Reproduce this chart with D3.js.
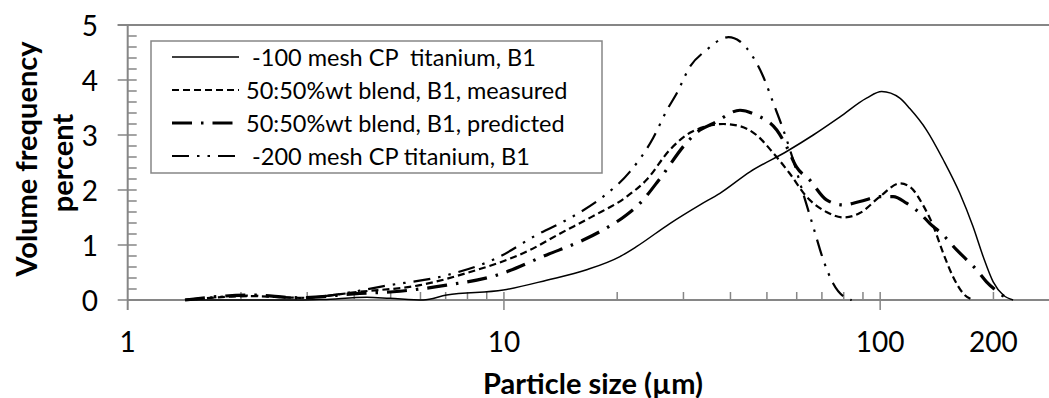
<!doctype html>
<html>
<head>
<meta charset="utf-8">
<title>Particle size distribution</title>
<script src="https://cdnjs.cloudflare.com/ajax/libs/d3/7.8.5/d3.min.js"></script>
<style>
  body { margin: 0; background: #fff; }
  text { font-family: Lato, "Open Sans", sans-serif; fill: #000; }
</style>
</head>
<body>
<div id="chart"></div>
<script>
// particle sizes (um) and volume frequency (%)
var coarseSize = [1.42, 2.11, 2.87, 3.30, 4.32, 4.98, 6.10, 7.04, 9.96, 12.99, 16.59, 20.34, 22.5, 27.6, 33.2, 37.5, 45.06, 56.4, 66.4, 78.2, 92.0, 100.9, 112.8, 119.9, 132.8, 147.1, 162.8, 176.6, 187.8, 199.7, 212.3, 225.6];
var coarseVal  = [0, 0, 0, 0.01, 0.05, 0.03, 0.0, 0.09, 0.18, 0.36, 0.55, 0.79, 0.97, 1.39, 1.73, 1.94, 2.33, 2.70, 3.00, 3.33, 3.67, 3.79, 3.67, 3.48, 3.09, 2.55, 1.94, 1.33, 0.79, 0.33, 0.09, 0];

var measSize = [1.42, 2.11, 2.87, 4.14, 5.98, 7.96, 11.73, 14.11, 17.2, 21.2, 23.9, 27.6, 31.6, 38.3, 42.4, 46.9, 52.0, 57.5, 63.7, 72.0, 79.8, 88.3, 99.8, 112.8, 119.9, 130.1, 138.3, 147.1, 156.3, 166.2, 176.6];
var measVal  = [0, 0.07, 0.04, 0.15, 0.27, 0.49, 0.91, 1.21, 1.52, 1.88, 2.18, 2.73, 3.06, 3.20, 3.16, 3.00, 2.67, 2.30, 1.88, 1.60, 1.50, 1.58, 1.88, 2.12, 2.06, 1.72, 1.35, 0.85, 0.42, 0.12, 0];

var predSize = [1.42, 2.11, 2.87, 4.14, 5.08, 7.04, 9.56, 12.99, 16.25, 17.95, 21.2, 23.0, 26.0, 30.5, 33.2, 36.0, 42.4, 46.9, 53.1, 56.4, 59.9, 65.0, 72.0, 79.8, 88.3, 99.8, 108.3, 117.5, 127.5, 135.6, 147.1, 159.7, 169.8, 180.4, 191.7, 208, 221.1];
var predVal  = [0, 0.09, 0.04, 0.12, 0.15, 0.27, 0.45, 0.82, 1.09, 1.24, 1.55, 1.76, 2.21, 2.85, 3.09, 3.21, 3.45, 3.36, 3.09, 2.79, 2.42, 2.18, 1.82, 1.73, 1.79, 1.88, 1.88, 1.76, 1.58, 1.39, 1.18, 0.91, 0.73, 0.55, 0.33, 0.12, 0];

var fineSize = [1.42, 2.11, 2.87, 4.14, 4.68, 7.04, 9.56, 12.2, 14.98, 18.36, 21.6, 24.9, 27.1, 28.8, 31.2, 34.6, 37.5, 39.5, 42.4, 45.9, 48.9, 52.0, 55.3, 58.7, 62.4, 66.4, 70.6, 75.0, 81.4, 84];
var fineVal  = [0, 0.08, 0.04, 0.17, 0.24, 0.45, 0.76, 1.18, 1.49, 1.88, 2.33, 2.94, 3.45, 3.76, 4.24, 4.55, 4.73, 4.78, 4.70, 4.42, 4.06, 3.58, 3.09, 2.55, 1.94, 1.33, 0.73, 0.30, 0.03, 0];

var seriesNames = [" -100 mesh CP  titanium, B1", "50:50%wt blend, B1, measured", "50:50%wt blend, B1, predicted", " -200 mesh CP titanium, B1"];
var xTickLabels = [1, 10, 100, 200];
var yTickLabels = [0, 1, 2, 3, 4, 5];

var width = 1049, height = 398;
var grey = "#868686";

var svg = d3.select("#chart").append("svg")
    .attr("width", width)
    .attr("height", height);

var x = d3.scaleLog().domain([1, 281]).range([127.7, 1049]);
var y = d3.scaleLinear().domain([0, 5]).range([300, 25]);

var styles = [
  {w: 1.5, dash: null},
  {w: 2.2, dash: "7,4"},
  {w: 3.2, dash: "20,9,2.5,9"},
  {w: 2.2, dash: "17,8,2.5,8,2.5,8"}
];

// axes
var axes = svg.append("g");
axes.append("line")
    .attr("x1", x(1) - 10).attr("x2", width)
    .attr("y1", y(5)).attr("y2", y(5))
    .attr("stroke", grey).attr("stroke-width", 2);
axes.append("line")
    .attr("x1", x(1)).attr("x2", x(1))
    .attr("y1", y(5)).attr("y2", y(0))
    .attr("stroke", grey).attr("stroke-width", 2);
axes.append("line")
    .attr("x1", x(1)).attr("x2", width)
    .attr("y1", y(0)).attr("y2", y(0))
    .attr("stroke", grey).attr("stroke-width", 2);

// y ticks: major every 1, minor every 0.2
d3.range(0, 5.001, 0.2).forEach(function (v) {
  var major = Math.abs(v - Math.round(v)) < 1e-6;
  axes.append("line")
      .attr("x1", major ? x(1) - 10 : x(1)).attr("x2", x(1) + 9)
      .attr("y1", y(v)).attr("y2", y(v))
      .attr("stroke", grey).attr("stroke-width", 1.5);
});

// x ticks: decades cross the axis, minor ticks inside
x.ticks().forEach(function (v) {
  var major = Math.abs(Math.log10(v) - Math.round(Math.log10(v))) < 1e-6;
  if (v === 1) return;
  axes.append("line")
      .attr("x1", x(v)).attr("x2", x(v))
      .attr("y1", y(0) - 8).attr("y2", major ? y(0) + 10 : y(0))
      .attr("stroke", grey).attr("stroke-width", 1.5);
});
axes.append("line")
    .attr("x1", x(1)).attr("x2", x(1))
    .attr("y1", y(0)).attr("y2", y(0) + 10)
    .attr("stroke", grey).attr("stroke-width", 2);

svg.selectAll(".ylab").data(yTickLabels).enter().append("text")
    .attr("x", 98)
    .attr("y", function (d) { return y(d); })
    .attr("text-anchor", "end")
    .attr("dominant-baseline", "central")
    .style("font-size", "28px")
    .text(function (d) { return d; });

svg.selectAll(".xlab").data(xTickLabels).enter().append("text")
    .attr("x", function (d) { return x(d); })
    .attr("y", 341)
    .attr("text-anchor", "middle")
    .attr("dominant-baseline", "central")
    .style("font-size", "28px")
    .text(function (d) { return d; });

// axis titles
svg.append("text")
    .attr("transform", "translate(25,159) rotate(-90)")
    .attr("text-anchor", "middle")
    .attr("dominant-baseline", "central")
    .style("font-size", "29px").style("font-weight", "bold")
    .text("Volume frequency");
svg.append("text")
    .attr("transform", "translate(61,163) rotate(-90)")
    .attr("text-anchor", "middle")
    .attr("dominant-baseline", "central")
    .style("font-size", "29px").style("font-weight", "bold")
    .text("percent");
svg.append("text")
    .attr("x", 593).attr("y", 382)
    .attr("text-anchor", "middle")
    .attr("dominant-baseline", "central")
    .style("font-size", "29px").style("font-weight", "bold")
    .text("Particle size (\u00b5m)");

// curves
var line = d3.line()
    .x(function (d) { return x(d[0]); })
    .y(function (d) { return y(d[1]); })
    .curve(d3.curveMonotoneX);

var series = [
  d3.zip(coarseSize, coarseVal),
  d3.zip(measSize, measVal),
  d3.zip(predSize, predVal),
  d3.zip(fineSize, fineVal)
];

series.forEach(function (pts, i) {
  svg.append("path")
      .attr("d", line(pts))
      .attr("fill", "none")
      .attr("stroke", "#000")
      .attr("stroke-width", styles[i].w)
      .attr("stroke-dasharray", styles[i].dash);
});

// legend
var legend = svg.append("g");
legend.append("rect")
    .attr("x", 151).attr("y", 41)
    .attr("width", 451).attr("height", 132)
    .attr("fill", "#fff")
    .attr("stroke", grey).attr("stroke-width", 1.5);

seriesNames.forEach(function (name, i) {
  var ry = 57 + i * 33;
  legend.append("line")
      .attr("x1", 172).attr("x2", 239)
      .attr("y1", ry).attr("y2", ry)
      .attr("stroke", "#000")
      .attr("stroke-width", styles[i].w)
      .attr("stroke-dasharray", styles[i].dash);
  legend.append("text")
      .attr("x", 246).attr("y", ry)
      .attr("dominant-baseline", "central")
      .style("font-size", "23.5px")
      .style("white-space", "pre")
      .text(name);
});
</script>
</body>
</html>
